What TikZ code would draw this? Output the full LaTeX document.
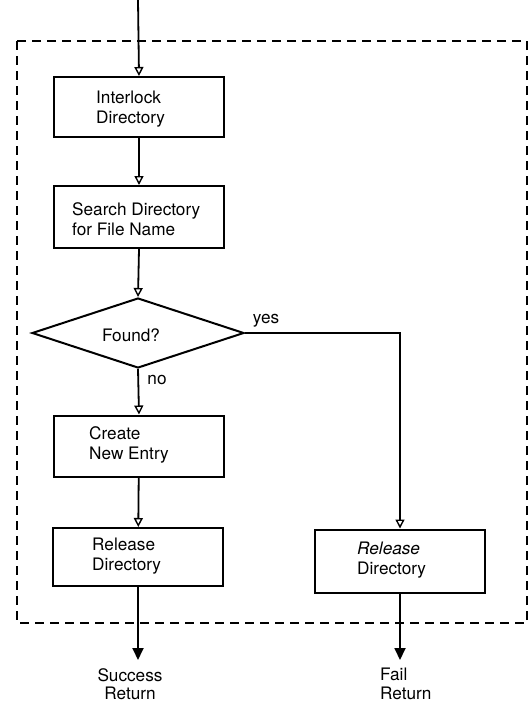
\documentclass[tikz,border=0pt]{standalone}
\usepackage{fontspec}
\setmainfont{TeX Gyre Heros}
\usetikzlibrary{arrows.meta,shapes.geometric}
\begin{document}
\begin{tikzpicture}[x=1pt,y=-1pt,
  box/.style={draw,line width=2pt,minimum width=170pt,inner sep=0pt},
  txt/.style={font=\fontsize{17.2}{19.5}\selectfont,align=left,anchor=west,inner sep=0pt},
  flow/.style={line width=1.8pt,-{Triangle[open,length=9pt,width=9pt,line width=1.4pt]}},
  exit/.style={line width=1.8pt,-{Triangle[length=12pt,width=11pt]}},
  lab/.style={font=\fontsize{17.2}{19.5}\selectfont,inner sep=0pt}
]
\useasboundingbox (0,0) rectangle (532,707);
\draw[line width=2pt,dash pattern=on 9pt off 6pt] (17,41) rectangle (527,623);

\coordinate (start) at (138,0);
\node[box,minimum height=60pt] (b1) at (139,107) {};
\node[box,minimum height=62pt] (b2) at (139,217) {};
\node[diamond,draw,line width=2pt,minimum width=212pt,minimum height=70pt,inner sep=0pt] (dec) at (138,333) {};
\node[box,minimum height=61pt] (b3) at (139,446) {};
\node[box,minimum height=58pt] (b4) at (138,557) {};
\node[box,minimum height=63pt] (b5) at (400,561) {};
\coordinate (succ) at (138,660);
\coordinate (fail) at (400,660);

\node[txt] (t1) at (96,109) {Interlock\\Directory};
\node[txt] (t2) at (72,219) {Search Directory\\for File Name};
\node[lab] (t3) at (131,335) {Found?};
\node[txt] (t4) at (89,445) {Create\\New Entry};
\node[txt] (t5) at (92,556) {Release\\Directory};
\node[txt] (t6) at (357,560) {\textit{Release}\\Directory};
\node[lab] (yes) at (266,321) {yes};
\node[lab] (no) at (157,380) {no};
\node[lab,align=center,font=\fontsize{17.2}{18.5}\selectfont] (t7) at (130,684) {Success\\Return};
\node[txt,font=\fontsize{17.2}{18.5}\selectfont] (t8) at (380,684) {Fail\\Return};

\draw[flow] (start) -- (b1.north);
\draw[flow] (b1) -- (b2);
\draw[flow] (b2.south) -- (dec.north);
\draw[flow] (dec.south) -- (b3.north);
\draw[flow] (b3) -- (b4);
\draw[flow] (dec.east) -| (b5.north);
\draw[exit] (b4.south) -- (succ);
\draw[exit] (b5.south) -- (fail);
\end{tikzpicture}
\end{document}
